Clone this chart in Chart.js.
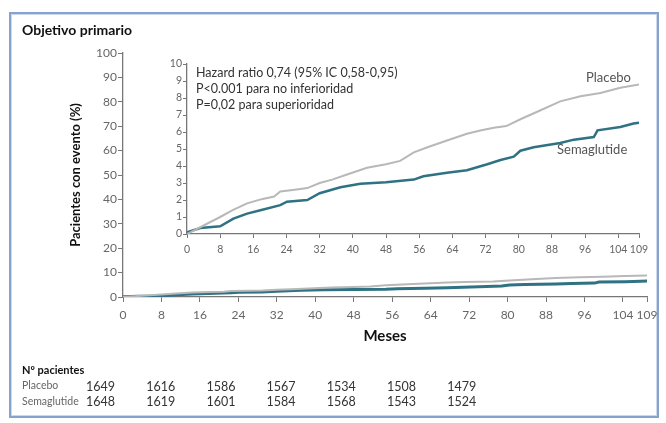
<!DOCTYPE html>
<html lang="es">
<head>
<meta charset="utf-8" />
<title>Objetivo primario</title>
<script src="https://cdn.jsdelivr.net/npm/chart.js"></script>
<style>
  html, body { margin: 0; padding: 0; background: #fff; }
  #wrap { position: relative; width: 666px; height: 423px; overflow: hidden; font-family: Lato, "Open Sans", sans-serif; }
  #frame { position: absolute; left: 9px; top: 12px; width: 646px; height: 402px;
           border: 2px solid #86a3cf; box-shadow: inset 0 0 0 1px #cdd9eb; }
  canvas { position: absolute; left: 0; top: 0; }
  .txt { position: absolute; white-space: nowrap; color: #333; }
  .b { font-weight: bold; color: #111; }
</style>
</head>
<body>
<div id="wrap">
  <div id="frame"></div>
  <canvas id="main" width="666" height="423"></canvas>
  <canvas id="inset" width="666" height="423"></canvas>

  <div class="txt b" style="left:22px; top:21px; font-size:14px;">Objetivo primario</div>
  <div class="txt" style="left:196px; top:65px; font-size:12.5px; line-height:16px;">
    Hazard ratio 0,74 (95% IC 0,58-0,95)<br>P&lt;0.001 para no inferioridad<br>P=0,02 para superioridad
  </div>
  <div class="txt" style="left:586px; top:69px; font-size:13px; color:#555;">Placebo</div>
  <div class="txt" style="left:557px; top:141px; font-size:13px; color:#555;">Semaglutide</div>

  <div class="txt b" style="left:22px; top:363px; font-size:11px;">Nº pacientes</div>
  <div class="txt" style="left:22px; top:379px; font-size:10.5px; color:#666;">Placebo</div>
  <div class="txt" style="left:22px; top:395px; font-size:10.5px; color:#666;">Semaglutide</div>
  <div id="table"></div>
</div>

<script>
  // curves (months, % with event)
  var placeboMonths = [0, 4, 8, 11, 14.5, 18, 21, 22.5, 26, 29, 32, 35, 38.6, 43.4, 48, 51.4, 54.7, 58, 62.7, 67.5, 71, 74, 77, 80.4, 85, 90, 94.9, 99.7, 104.5, 109];
  var placeboPct    = [0, 0.5, 1.0, 1.4, 1.8, 2.05, 2.2, 2.5, 2.6, 2.7, 3.0, 3.2, 3.5, 3.9, 4.1, 4.3, 4.8, 5.1, 5.5, 5.9, 6.1, 6.25, 6.35, 6.75, 7.25, 7.8, 8.1, 8.3, 8.6, 8.8];
  var semaMonths    = [0, 3.2, 8, 11.2, 14.5, 17.7, 22.5, 24.1, 29, 32, 37, 41.8, 48, 54.7, 57, 62.7, 67.5, 72.4, 75.6, 78.8, 80.4, 83.6, 90, 93.3, 98.1, 99, 104.5, 107.7, 109];
  var semaPct       = [0.1, 0.35, 0.45, 0.9, 1.2, 1.4, 1.7, 1.9, 2.0, 2.4, 2.75, 2.95, 3.05, 3.2, 3.4, 3.6, 3.75, 4.1, 4.35, 4.55, 4.9, 5.1, 5.35, 5.55, 5.7, 6.1, 6.3, 6.5, 6.55];

  var monthTicks = [0, 8, 16, 24, 32, 40, 48, 56, 64, 72, 80, 88, 96, 104, 109];

  // patients at risk
  var riskPlacebo = [1649, 1616, 1586, 1567, 1534, 1508, 1479];
  var riskSema    = [1648, 1619, 1601, 1584, 1568, 1543, 1524];

  var grey = '#b8b8b8';
  var teal = '#2f7284';
  var tickGrey = '#777';

  function pts(xs, ys) {
    var out = [];
    for (var i = 0; i < xs.length; i++) out.push({ x: xs[i], y: ys[i] });
    return out;
  }

  function datasets(wPlac, wSema) {
    return [
      { label: 'Placebo', data: pts(placeboMonths, placeboPct), borderColor: grey, borderWidth: wPlac, pointRadius: 0, tension: 0 },
      { label: 'Semaglutide', data: pts(semaMonths, semaPct), borderColor: teal, borderWidth: wSema, pointRadius: 0, tension: 0 }
    ];
  }

  function makeChart(id, opt) {
    return new Chart(document.getElementById(id), {
      type: 'line',
      data: { datasets: datasets(opt.wPlac, opt.wSema) },
      options: {
        responsive: false,
        animation: false,
        events: [],
        layout: { padding: opt.padding },
        plugins: { legend: { display: false }, tooltip: { enabled: false } },
        scales: {
          x: {
            type: 'linear', min: 0, max: 109,
            afterBuildTicks: function (s) { s.ticks = monthTicks.map(function (v) { return { value: v }; }); },
            afterFit: function (s) { s.height = opt.xH; },
            grid: { drawOnChartArea: false, tickLength: opt.tickLen, color: tickGrey },
            border: { color: tickGrey, width: 1.3 },
            ticks: { autoSkip: false, maxRotation: 0, padding: opt.xPad, color: '#666', font: { family: 'Lato', size: opt.font } },
            title: opt.xTitle
          },
          y: {
            min: 0, max: opt.yMax,
            afterBuildTicks: function (s) {
              var t = [];
              for (var v = 0; v <= opt.yMax; v += opt.yStep) t.push({ value: v });
              s.ticks = t;
            },
            afterFit: function (s) { s.width = opt.yW; },
            grid: { drawOnChartArea: false, tickLength: opt.tickLen, color: tickGrey },
            border: { color: tickGrey, width: 1.3 },
            ticks: { padding: 1, color: '#666', font: { family: 'Lato', size: opt.font } },
            title: opt.yTitle
          }
        }
      }
    });
  }

  makeChart('main', {
    wPlac: 2, wSema: 3,
    padding: { left: 64, right: 19, top: 53, bottom: 74 },
    xH: 52, yW: 59, tickLen: 5, xPad: 6, font: 12,
    yMax: 100, yStep: 10,
    xTitle: { display: true, text: 'Meses', color: '#111', padding: { top: 8, bottom: 4 }, font: { family: 'Lato', size: 15, weight: 'bold' } },
    yTitle: { display: true, text: 'Pacientes con evento (%)', color: '#111', padding: 4, font: { family: 'Lato', size: 13, weight: 'bold' } }
  });

  makeChart('inset', {
    wPlac: 2, wSema: 2.5,
    padding: { left: 162, right: 27, top: 64, bottom: 164 },
    xH: 25, yW: 25, tickLen: 4, xPad: 5, font: 10.5,
    yMax: 10, yStep: 1,
    xTitle: { display: false },
    yTitle: { display: false }
  });

  // patients-at-risk table
  var table = document.getElementById('table');
  function addRow(vals, top) {
    for (var i = 0; i < vals.length; i++) {
      var d = document.createElement('div');
      d.className = 'txt';
      d.style.left = (86 + i * 60.2) + 'px';
      d.style.top = top + 'px';
      d.style.fontSize = '12.5px';
      d.textContent = vals[i];
      table.appendChild(d);
    }
  }
  addRow(riskPlacebo, 379);
  addRow(riskSema, 394);
</script>
</body>
</html>
